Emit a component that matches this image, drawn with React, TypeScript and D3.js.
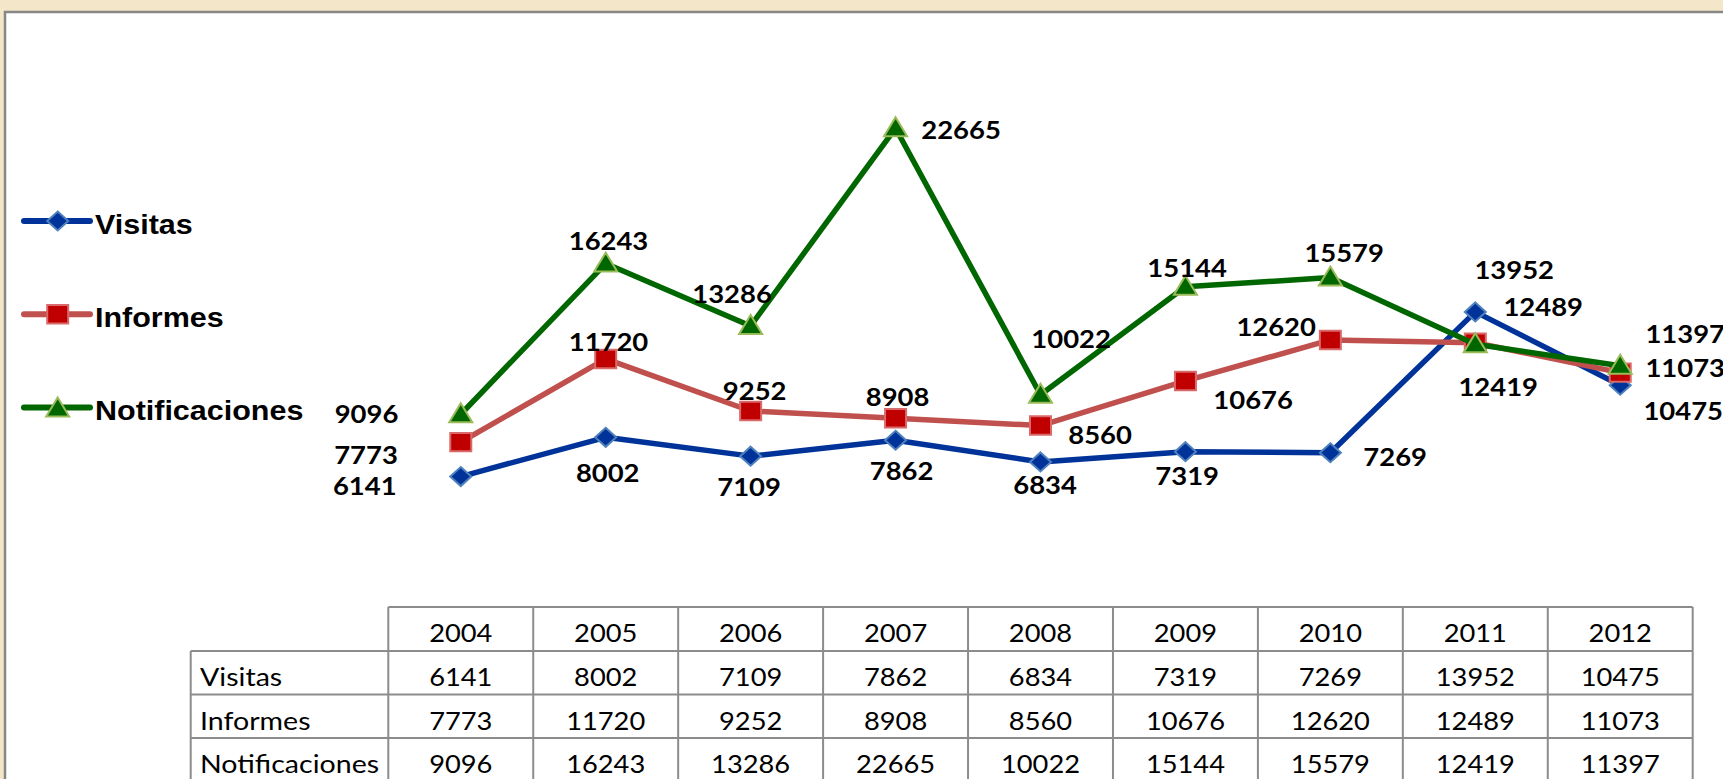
import * as d3 from 'd3';

const years = ['2004', '2005', '2006', '2007', '2008', '2009', '2010', '2011', '2012'];
const visitas = [6141, 8002, 7109, 7862, 6834, 7319, 7269, 13952, 10475];
const informes = [7773, 11720, 9252, 8908, 8560, 10676, 12620, 12489, 11073];
const notificaciones = [9096, 16243, 13286, 22665, 10022, 15144, 15579, 12419, 11397];
const seriesNames = ['Visitas', 'Informes', 'Notificaciones'];

// where each data label sits, relative to its point (centre of the text)
const visitasLabelOffsets = [[-96, 9.5], [2, 36], [-1.6, 30.6], [6, 31.4], [4.6, 23.6], [1.7, 24.3], [64.8, 4.7], [38.9, -41.4], [63, 26.3]];
const informesLabelOffsets = [[-94.8, 12.9], [2.8, -17.2], [4, -19.3], [2, -21.5], [59.6, 10], [67.7, 19], [-54.2, -13], [67.9, -35.2], [65, -4.1]];
const notifLabelOffsets = [[-94.3, -0.3], [2.8, -22.6], [-18.6, -32], [65.5, 1.5], [30.6, -55.7], [1.7, -18.3], [13.8, -24], [22.9, 43.3], [65, -31.7]];

const W = 1723;
const H = 779;

const series = [
  { name: seriesNames[0], values: visitas, offsets: visitasLabelOffsets, line: '#003399', fill: '#003399', edge: '#4f81bd', shape: 'diamond' },
  { name: seriesNames[1], values: informes, offsets: informesLabelOffsets, line: '#c0504d', fill: '#c00000', edge: '#d9696a', shape: 'square' },
  { name: seriesNames[2], values: notificaciones, offsets: notifLabelOffsets, line: '#006600', fill: '#006600', edge: '#9bbb59', shape: 'triangle' },
];

function markerPath(shape: string) {
  if (shape === 'diamond') return 'M0,-9.5L10.5,0L0,9.5L-10.5,0Z';
  if (shape === 'square') return 'M-10.5,-9.2H10.5V9.2H-10.5Z';
  return 'M0,-11L11.5,8L-11.5,8Z';
}

// text a bit wider than the font draws it, like the source picture
function WideText({ x, y, sx, children, ...rest }: any) {
  return (
    <text transform={`translate(${x},${y}) scale(${sx},1)`} {...rest}>
      {children}
    </text>
  );
}

export default function App() {
  const tableLeft = 388.3;
  const tableRight = 1692.7;
  const labelLeft = 190.7;
  const rowTop = [607, 651, 694.5, 738];
  const rowH = 43.8;

  const x = d3.scaleBand().domain(years).range([tableLeft, tableRight]).padding(0);
  const cx = (yr: string) => (x(yr) as number) + x.bandwidth() / 2;
  const y = d3.scaleLinear().domain([0, 25000]).range([606, 79]);

  const line = d3
    .line<number>()
    .x((_, i) => cx(years[i]))
    .y((d) => y(d));

  const grid = '#8c8c8c';
  const labelFont = 'Lato, "Open Sans", sans-serif';

  return (
    <svg width={W} height={H} style={{ position: 'absolute', left: 0, top: 0 }}>
      <rect x={0} y={0} width={W} height={H} fill="#f4e6c8" />
      <rect x={5} y={12} width={W + 20} height={H + 20} fill="#ffffff" stroke="#878787" strokeWidth={2.5} />

      {/* legend */}
      {series.map((s, i) => {
        const ly = 221 + i * 93.2;
        return (
          <g key={s.name}>
            <line x1={24} x2={90} y1={ly} y2={ly} stroke={s.line} strokeWidth={6} strokeLinecap="round" />
            <path d={markerPath(s.shape)} transform={`translate(57.7,${ly + (s.shape === 'triangle' ? 1 : 0)})`} fill={s.fill} stroke={s.edge} strokeWidth={2} />
            <WideText x={95} y={ly + 13} sx={1.07} fontFamily='"Liberation Sans", Arial, sans-serif' fontWeight="bold" fontSize={28.5} fill="#000">
              {s.name}
            </WideText>
          </g>
        );
      })}

      {/* lines and markers */}
      {series.map((s) => (
        <g key={s.name}>
          <path d={line(s.values) as string} fill="none" stroke={s.line} strokeWidth={5.5} strokeLinejoin="round" />
          {s.values.map((v, i) => (
            <path key={i} d={markerPath(s.shape)} transform={`translate(${cx(years[i])},${y(v)})`} fill={s.fill} stroke={s.edge} strokeWidth={2} />
          ))}
        </g>
      ))}

      {/* data labels */}
      {series.map((s) =>
        s.values.map((v, i) => (
          <WideText
            key={s.name + i}
            x={cx(years[i]) + s.offsets[i][0]}
            y={y(v) + s.offsets[i][1] + 8.8}
            sx={1.12}
            textAnchor="middle"
            fontFamily={labelFont}
            fontWeight="bold"
            fontSize={24.5}
            fill="#000"
          >
            {v}
          </WideText>
        ))
      )}

      {/* data table */}
      <g stroke={grid} strokeWidth={2} fill="none">
        <line x1={tableLeft} x2={tableRight} y1={rowTop[0]} y2={rowTop[0]} />
        {rowTop.slice(1).map((t) => (
          <line key={t} x1={labelLeft} x2={tableRight} y1={t} y2={t} />
        ))}
        <line x1={labelLeft} x2={labelLeft} y1={rowTop[1]} y2={H + 5} />
        {years.map((yr) => (
          <line key={yr} x1={x(yr) as number} x2={x(yr) as number} y1={rowTop[0]} y2={H + 5} />
        ))}
        <line x1={tableRight} x2={tableRight} y1={rowTop[0]} y2={H + 5} />
      </g>
      <g fontFamily={labelFont} fontSize={25.5} fill="#000">
        {years.map((yr) => (
          <WideText key={yr} x={cx(yr)} y={rowTop[0] + rowH / 2 + 13.5} sx={1.07} textAnchor="middle">
            {yr}
          </WideText>
        ))}
        {series.map((s, r) => (
          <g key={s.name}>
            <WideText x={200} y={rowTop[r + 1] + rowH / 2 + 13.5} sx={1.12}>
              {s.name}
            </WideText>
            {s.values.map((v, i) => (
              <WideText key={i} x={cx(years[i])} y={rowTop[r + 1] + rowH / 2 + 13.5} sx={1.07} textAnchor="middle">
                {v}
              </WideText>
            ))}
          </g>
        ))}
      </g>
    </svg>
  );
}
